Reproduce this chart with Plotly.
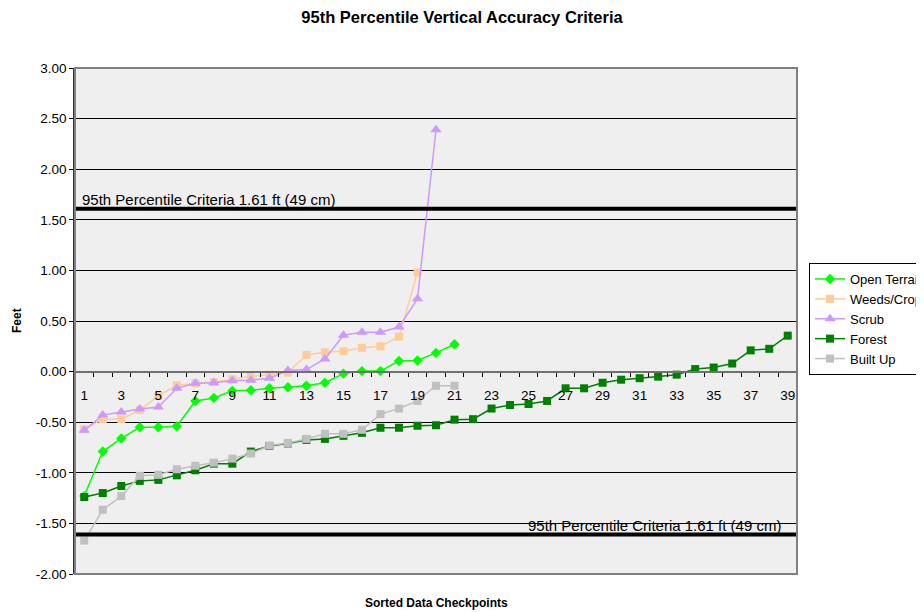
import plotly.graph_objects as go

checkpoints = list(range(1, 40))

open_terrain = [-1.23, -0.79, -0.66, -0.55, -0.55, -0.54, -0.29, -0.26, -0.19, -0.185,
                 -0.165, -0.155, -0.14, -0.11, -0.02, 0.005, 0.005, 0.105, 0.11, 0.185, 0.27]
weeds_crop = [-0.57, -0.47, -0.47, -0.38, -0.24, -0.135, -0.115, -0.105, -0.075, -0.045,
               -0.03, -0.01, 0.165, 0.19, 0.20, 0.235, 0.25, 0.345, 0.98]
scrub = [-0.58, -0.43, -0.40, -0.37, -0.35, -0.165, -0.115, -0.11, -0.09, -0.085,
          -0.065, 0.01, 0.02, 0.125, 0.36, 0.39, 0.39, 0.44, 0.72, 2.39]
forest = [-1.24, -1.20, -1.13, -1.08, -1.07, -1.025, -0.975, -0.91, -0.91, -0.79,
           -0.735, -0.71, -0.675, -0.665, -0.635, -0.605, -0.555, -0.555, -0.535, -0.53,
           -0.475, -0.47, -0.365, -0.33, -0.32, -0.29, -0.165, -0.165, -0.11, -0.08,
           -0.065, -0.05, -0.03, 0.025, 0.04, 0.08, 0.21, 0.225, 0.355]
built_up = [-1.67, -1.365, -1.23, -1.03, -1.02, -0.965, -0.93, -0.90, -0.86, -0.81,
             -0.73, -0.705, -0.665, -0.615, -0.615, -0.575, -0.42, -0.365, -0.29, -0.14, -0.14]

criteria = 1.61
criteria_label = "95th Percentile Criteria 1.61 ft (49 cm)"
x_tick_labels = [str(i) for i in range(1, 40, 2)]
y_ticks = [-2.0, -1.5, -1.0, -0.5, 0.0, 0.5, 1.0, 1.5, 2.0, 2.5, 3.0]

FONT = "Arial, Liberation Sans, sans-serif"
W, H = 916, 604

series = [
    ("Open Terrain", open_terrain, "#00ff00", "diamond", 8),
    ("Weeds/Crop", weeds_crop, "#ffcc99", "square", 8),
    ("Scrub", scrub, "#cc99ff", "triangle-up", 10),
    ("Forest", forest, "#008000", "square", 8),
    ("Built Up", built_up, "#c0c0c0", "square", 8),
]

fig = go.Figure()
for name, vals, color, sym, size in series:
    fig.add_trace(go.Scatter(
        x=checkpoints[:len(vals)], y=vals, name=name, mode="lines+markers",
        line=dict(color=color, width=1.5),
        marker=dict(symbol=sym, size=size, color=color, line=dict(width=0)),
    ))

# criteria lines
for v in (criteria, -criteria):
    fig.add_shape(type="line", xref="x domain", yref="y", x0=0, x1=1, y0=v, y1=v,
                  line=dict(color="black", width=4), layer="above")

# border
fig.add_shape(type="rect", xref="x domain", yref="y domain", x0=0, x1=1, y0=0, y1=1,
              line=dict(color="#808080", width=2), layer="above")

fig.add_annotation(x=0.007, xref="x domain", y=criteria, yref="y", text=criteria_label,
                   showarrow=False, xanchor="left", yanchor="bottom", yshift=-1,
                   font=dict(family=FONT, size=15, color="black"))
fig.add_annotation(x=0.98, xref="x domain", y=-criteria, yref="y", text=criteria_label,
                   showarrow=False, xanchor="right", yanchor="bottom", yshift=-1,
                   font=dict(family=FONT, size=15, color="black"))

fig.add_annotation(x=0.5, xref="x domain", y=-0.0573, yref="paper", yanchor="middle",
                   text="<b>Sorted Data Checkpoints</b>", showarrow=False,
                   font=dict(family=FONT, size=12, color="black"))
fig.add_annotation(x=-0.0803, xref="paper", y=0.5, yref="y domain", text="<b>Feet</b>",
                   showarrow=False, textangle=-90, xanchor="center",
                   font=dict(family=FONT, size=12, color="black"))

fig.update_layout(
    width=W, height=H,
    margin=dict(l=67, r=127, t=60, b=38),
    paper_bgcolor="white",
    plot_bgcolor="#efefef",
    font=dict(family=FONT, size=13, color="black"),
    title=dict(text="<b>95th Percentile Vertical Accuracy Criteria</b>", x=454 / W,
               xanchor="center", xref="container", yref="container",
               y=1 - 9 / H, yanchor="middle",
               font=dict(family=FONT, size=16.5, color="black")),
    showlegend=True,
    legend=dict(xref="container", yref="container", x=801 / W, xanchor="left",
                y=1 - 255 / H, yanchor="top",
                bgcolor="white", bordercolor="black", borderwidth=1,
                font=dict(family=FONT, size=13, color="black"),
                tracegroupgap=0, itemwidth=30),
    xaxis=dict(range=[0.5, 39.5], tickmode="array", tickvals=list(range(1, 40, 2)),
               ticktext=x_tick_labels, ticks="", showgrid=False, zeroline=False,
               anchor="free", position=0.4, showline=True, linecolor="#707070", linewidth=2,
               ticklabelstandoff=11,
               minor=dict(tickmode="array", tickvals=[i + 0.5 for i in range(0, 40)],
                          ticks="outside", ticklen=4, tickcolor="black", tickwidth=1,
                          showgrid=False),
               tickfont=dict(family=FONT, size=13.5, color="black")),
    yaxis=dict(range=[-2.0, 3.0], tickmode="array", tickvals=y_ticks,
               ticktext=[f"{v:.2f}" for v in y_ticks],
               showgrid=True, gridcolor="black", gridwidth=1, zeroline=False,
               showline=True, linecolor="#333333", linewidth=1.5,
               ticks="outside", ticklen=4, tickcolor="black",
               tickfont=dict(family=FONT, size=13.5, color="black")),
)

fig.write_html("out.html")
